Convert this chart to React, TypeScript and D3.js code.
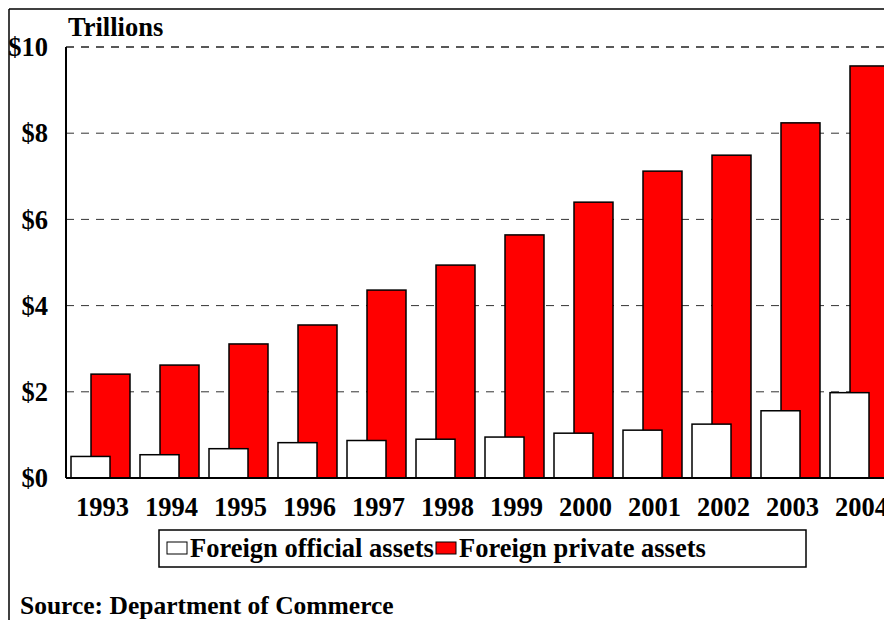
import React from "react";
import * as d3 from "d3";

const years = ["1993", "1994", "1995", "1996", "1997", "1998", "1999", "2000", "2001", "2002", "2003", "2004"];
const officialAssets = [0.5, 0.54, 0.68, 0.82, 0.87, 0.9, 0.95, 1.04, 1.11, 1.25, 1.56, 1.98];
const privateAssets = [2.41, 2.62, 3.11, 3.55, 4.36, 4.94, 5.64, 6.4, 7.12, 7.49, 8.24, 9.56];
const yTickValues = [0, 2, 4, 6, 8, 10];
const legendLabels = ["Foreign official assets", "Foreign private assets"];

const FONT = "'Liberation Serif', 'Times New Roman', serif";

export default function App() {
  const width = 884, height = 620;
  const marginLeft = 66, marginTop = 47, bottom = 478;

  // x scale: 69px step, bars group 59px wide
  const xScale = d3.scaleBand<string>()
    .domain(years)
    .range([marginLeft, marginLeft + years.length * 69])
    .paddingInner(10 / 69)
    .paddingOuter(5 / 69);

  const yScale = d3.scaleLinear().domain([0, 10]).range([bottom, marginTop]);

  const bw = xScale.bandwidth();
  const barW = bw * 39 / 59;
  const shift = bw - barW;

  const yTicks = yTickValues.map(d => (
    <g key={d} transform={`translate(0,${yScale(d)})`}>
      {d > 0 && (
        <line x1={marginLeft} x2={width} y1={0} y2={0}
          stroke={d === 10 ? "#222" : "#333"} strokeWidth={d === 10 ? 1.5 : 1} strokeDasharray="8,7" />
      )}
      <text x={48} dy="0.35em" textAnchor="end" fontSize={26.5} fontWeight="bold" fontFamily={FONT}>${d}</text>
    </g>
  ));

  return (
    <svg width={width} height={height} style={{ position: "absolute", left: 0, top: 0 }}>
      <rect width={width} height={height} fill="#fff" />
      {/* frame */}
      <line x1={9} x2={width} y1={9} y2={9} stroke="#000" strokeWidth={1.5} />
      <line x1={9} x2={9} y1={9} y2={height} stroke="#000" strokeWidth={1.5} />

      <text x={68} y={36} fontSize={26.5} fontWeight="bold" fontFamily={FONT}>Trillions</text>

      <g>{yTicks}</g>

      <g>
        {years.map((yr, i) => (
          <g key={yr}>
            <rect x={(xScale(yr) as number) + shift} y={yScale(privateAssets[i])}
              width={barW} height={bottom - yScale(privateAssets[i])}
              fill="#ff0000" stroke="#000" strokeWidth={1.5} />
            <rect x={xScale(yr) as number} y={yScale(officialAssets[i])}
              width={barW} height={bottom - yScale(officialAssets[i])}
              fill="#fff" stroke="#000" strokeWidth={1.5} />
          </g>
        ))}
      </g>

      {/* axes */}
      <line x1={marginLeft} x2={marginLeft} y1={marginTop} y2={bottom} stroke="#000" strokeWidth={2} />
      <line x1={marginLeft} x2={width} y1={bottom} y2={bottom} stroke="#000" strokeWidth={2} />

      <g>
        {years.map(yr => (
          <text key={yr} x={(xScale(yr) as number) + bw / 2 + 2} y={516} textAnchor="middle"
            fontSize={26.5} fontWeight="bold" fontFamily={FONT}>{yr}</text>
        ))}
      </g>

      {/* legend */}
      <rect x={159} y={530} width={647} height={37} fill="#fff" stroke="#000" strokeWidth={1.5} />
      <rect x={167} y={542} width={20} height={12} fill="#fff" stroke="#000" strokeWidth={1} />
      <text x={190} y={557} fontSize={26.5} fontWeight="bold" fontFamily={FONT}>{legendLabels[0]}</text>
      <rect x={436} y={542} width={20} height={12} fill="#ff0000" stroke="#000" strokeWidth={1} />
      <text x={459} y={557} fontSize={26.5} fontWeight="bold" fontFamily={FONT}>{legendLabels[1]}</text>

      <text x={20} y={614} fontSize={25.5} fontWeight="bold" fontFamily={FONT}>Source: Department of Commerce</text>
    </svg>
  );
}
